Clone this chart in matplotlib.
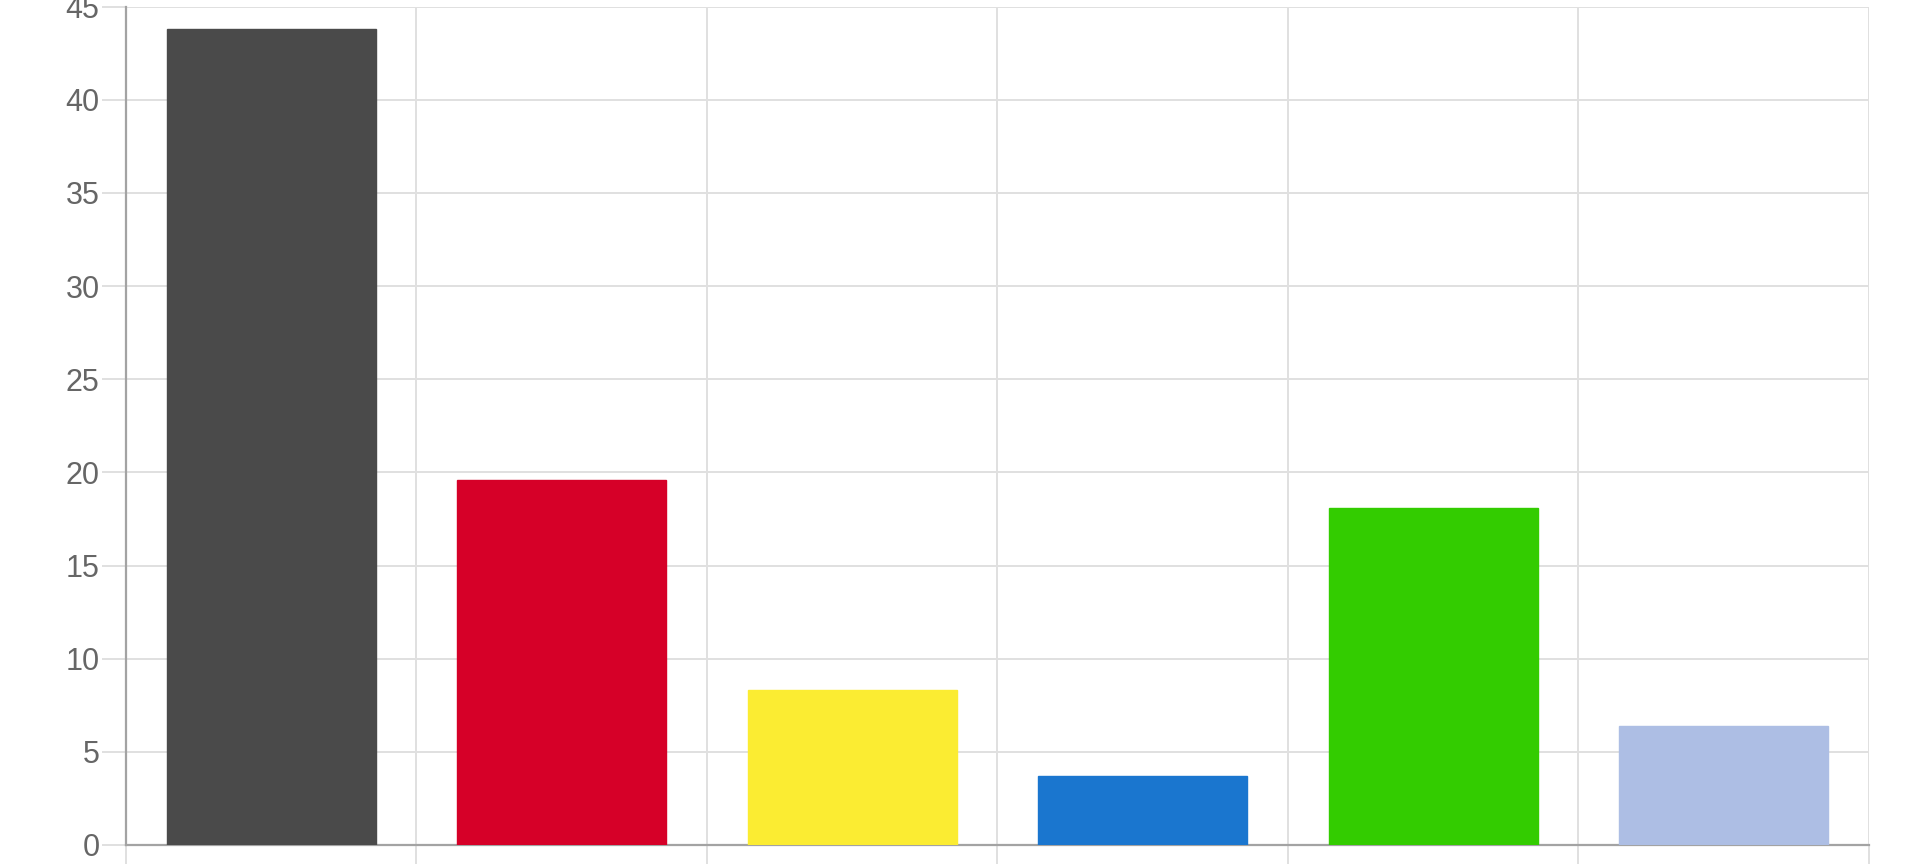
import numpy as np
import matplotlib.pyplot as plt

categories = ['A', 'B', 'C', 'D', 'E', 'F']
values = [43.8, 19.6, 8.3, 3.7, 18.1, 6.4]
colors = ['#4a4a4a', '#d60028', '#fbec32', '#1a76cf', '#33cc00', '#adbee4']

plt.rcParams['font.family'] = ['Liberation Sans', 'DejaVu Sans']

fig = plt.figure(figsize=(19.2, 8.64), dpi=100)
ax = fig.add_axes([0.0656, 0.022, 0.9078, 0.9703])

x = np.arange(len(categories))
ax.bar(x, values, width=0.72, color=colors, edgecolor=colors, linewidth=1, zorder=3)

ax.set_xlim(-0.5, len(categories) - 0.5)
ax.set_ylim(0, 45)
ax.set_yticks(np.arange(0, 46, 5))

# gridlines at category boundaries, like chart.js
ax.set_xticks(np.arange(len(categories) + 1) - 0.5)
ax.set_xticklabels([])
ax.grid(True, color='#e0e0e0', linewidth=1.4, zorder=0)

for s in ['top', 'right']:
    ax.spines[s].set_visible(False)
for s in ['left', 'bottom']:
    ax.spines[s].set_color('#a3a3a3')
    ax.spines[s].set_linewidth(1.6)

ax.tick_params(axis='y', length=17, width=1.4, color='#e0e0e0', labelsize=22,
               labelcolor='#666666', pad=2)
ax.tick_params(axis='x', length=15, width=1.4, color='#e0e0e0')

fig.savefig('out.png', dpi=100)
